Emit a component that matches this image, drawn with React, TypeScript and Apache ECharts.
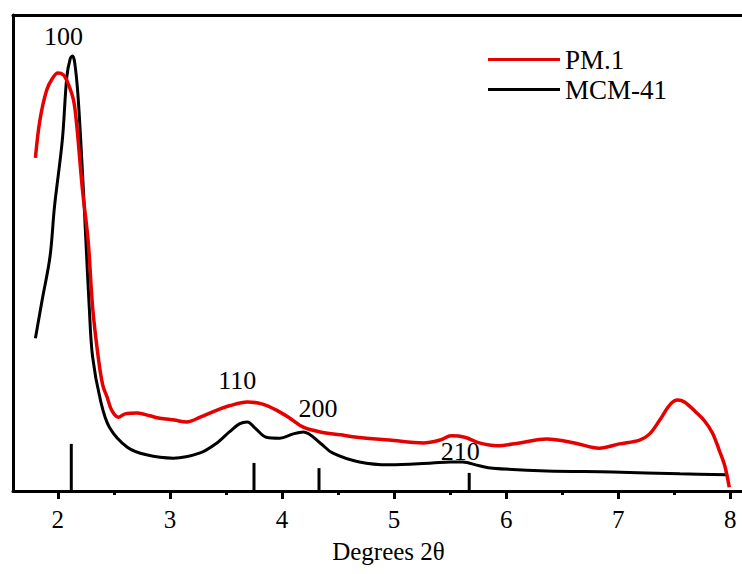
import React, { useEffect, useRef } from "react";
import * as echarts from "echarts";

// PM.1 (red) — [2θ, intensity a.u.]
const pm1: [number, number][] = [
  [1.80, 70.0], [1.84, 77.9], [1.90, 84.2], [1.95, 86.6], [2.00, 87.8], [2.05, 87.4],
  [2.09, 85.7], [2.14, 82.1], [2.17, 76.5], [2.22, 63.2], [2.27, 52.7], [2.31, 38.7],
  [2.36, 28.2], [2.40, 22.3], [2.44, 19.7], [2.48, 17.0], [2.54, 15.5], [2.60, 16.2],
  [2.71, 16.4], [2.82, 15.8], [2.91, 15.3], [3.04, 14.9], [3.15, 14.5], [3.27, 15.5],
  [3.42, 17.0], [3.53, 17.9], [3.69, 18.7], [3.82, 18.3], [3.95, 17.0], [4.07, 15.3],
  [4.19, 13.4], [4.34, 12.4], [4.52, 11.8], [4.67, 11.3], [4.96, 10.7], [5.26, 10.1],
  [5.41, 10.7], [5.51, 11.6], [5.63, 11.3], [5.76, 10.1], [5.92, 9.5], [6.12, 10.1],
  [6.36, 10.9], [6.61, 10.1], [6.83, 9.0], [7.01, 9.9], [7.19, 10.7], [7.28, 12.0],
  [7.37, 14.9], [7.46, 18.1], [7.53, 19.1], [7.59, 18.7], [7.70, 16.4], [7.77, 14.7],
  [7.84, 12.2], [7.90, 8.6], [7.95, 5.3], [7.99, 0.8],
];

// MCM-41 (black)
const mcm41: [number, number][] = [
  [1.80, 32.1], [1.86, 40.1], [1.93, 49.2], [1.97, 59.7], [2.04, 73.7], [2.08, 87.0],
  [2.11, 90.8], [2.13, 91.4], [2.15, 90.1], [2.18, 83.0], [2.22, 66.8],
  [2.25, 52.7], [2.28, 38.7], [2.31, 28.2], [2.38, 19.1], [2.46, 13.4], [2.62, 9.2],
  [2.79, 7.6], [3.03, 6.9], [3.27, 8.0], [3.42, 10.1], [3.53, 12.4], [3.62, 14.1],
  [3.69, 14.5], [3.76, 13.2], [3.86, 11.3], [3.98, 11.1], [4.10, 12.0], [4.19, 12.4],
  [4.34, 10.1], [4.45, 8.0], [4.69, 6.1], [4.96, 5.5], [5.34, 5.9], [5.50, 6.1],
  [5.61, 6.1], [5.76, 5.3], [5.88, 4.8], [6.36, 4.2], [6.95, 4.0], [7.55, 3.6],
  [7.97, 3.4],
];

// Reference reflection sticks [2θ, height]
const sticks: [number, number][] = [
  [2.12, 9.9], [3.75, 5.9], [4.33, 4.8], [5.67, 3.8],
];

// Miller index labels [2θ, y, text]
const hklLabels: [number, number, string][] = [
  [2.05, 95.4, "100"], [3.60, 23.3, "110"], [4.32, 17.4, "200"], [5.59, 8.2, "210"],
];

const majorTicks = [2, 3, 4, 5, 6, 7, 8];
const minorTicks = [2.5, 3.5, 4.5, 5.5, 6.5, 7.5];

const FONT = "'Liberation Serif', 'Times New Roman', serif";

export default function App() {
  const ref = useRef<HTMLDivElement>(null);
  useEffect(() => {
    if (!ref.current) return;
    const chart = echarts.init(ref.current, null, { renderer: "svg" });
    chart.setOption({
      animation: false,
      backgroundColor: "#fff",
      grid: {
        left: 13, right: -22, top: 15, bottom: 83,
        outerBoundsMode: "none", show: false,
      },
      legend: {
        data: ["PM.1", "MCM-41"],
        orient: "vertical",
        left: 483, top: 41,
        icon: "rect", itemWidth: 72, itemHeight: 3, itemGap: 3,
        textStyle: { fontSize: 27, fontFamily: FONT, color: "#000" },
      },
      xAxis: [
        {
          type: "value", min: 1.6, max: 8.3, position: "bottom",
          name: "Degrees 2θ", nameLocation: "middle", nameGap: 48,
          nameTextStyle: { fontSize: 25, fontFamily: FONT, color: "#000" },
          axisLine: { show: true, onZero: false, lineStyle: { color: "#000", width: 3 } },
          axisTick: { show: true, inside: false, length: 8, customValues: majorTicks, lineStyle: { color: "#000", width: 3 } },
          axisLabel: { show: true, margin: 16, customValues: majorTicks, fontSize: 25, fontFamily: FONT, color: "#000" },
          splitLine: { show: false },
        },
        {
          type: "value", min: 1.6, max: 8.3, position: "bottom",
          axisLine: { show: false, onZero: false },
          axisTick: { show: true, inside: false, length: 4, customValues: minorTicks, lineStyle: { color: "#000", width: 3 } },
          axisLabel: { show: false },
          splitLine: { show: false },
        },
        {
          type: "value", min: 1.6, max: 8.3, position: "top",
          axisLine: { show: true, onZero: false, lineStyle: { color: "#000", width: 3 } },
          axisTick: { show: false }, axisLabel: { show: false }, splitLine: { show: false },
        },
      ],
      yAxis: {
        type: "value", min: 0, max: 100, position: "left",
        axisLine: { show: true, onZero: false, lineStyle: { color: "#000", width: 3 } },
        axisTick: { show: false }, axisLabel: { show: false }, splitLine: { show: false },
      },
      series: [
        {
          name: "MCM-41", type: "line", data: mcm41, smooth: 0.35, symbol: "none",
          lineStyle: { color: "#000", width: 3 }, itemStyle: { color: "#000" }, z: 3,
        },
        {
          name: "PM.1", type: "line", data: pm1, smooth: 0.35, symbol: "none",
          lineStyle: { color: "#e60000", width: 3.5 }, itemStyle: { color: "#e60000" }, z: 4,
        },
        {
          type: "custom", data: sticks, z: 5, silent: true,
          renderItem: (_p: any, api: any) => {
            const a = api.coord([api.value(0), 0]);
            const b = api.coord([api.value(0), api.value(1)]);
            return {
              type: "line",
              shape: { x1: a[0], y1: a[1], x2: b[0], y2: b[1] },
              style: { stroke: "#000", lineWidth: 3 },
            };
          },
        },
        {
          type: "custom", data: hklLabels, z: 6, silent: true,
          dimensions: ["x", "y", "t"],
          renderItem: (p: any, api: any) => {
            const item = hklLabels[p.dataIndex];
            const c = api.coord([item[0], item[1]]);
            return {
              type: "text", x: c[0], y: c[1],
              style: {
                text: item[2], fill: "#000", fontSize: 26, fontFamily: FONT,
                align: "center", verticalAlign: "middle",
              },
            };
          },
        },
      ],
    });
    return () => chart.dispose();
  }, []);
  return (
    <div
      ref={ref}
      style={{ position: "fixed", left: 0, top: 0, width: 742, height: 574, background: "#fff" }}
    />
  );
}
